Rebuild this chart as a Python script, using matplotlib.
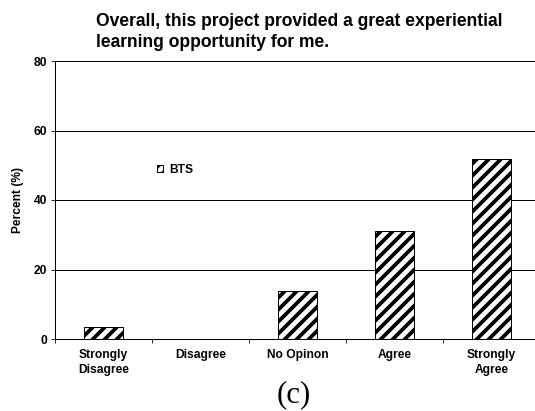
import numpy as np
import matplotlib.pyplot as plt

# survey answers, percent of students (BTS group)
categories = ['Strongly\nDisagree', 'Disagree', 'No Opinon', 'Agree', 'Strongly\nAgree']
bts = [3.4, 0.0, 13.8, 31.0, 51.7]
yticks = [0, 20, 40, 60, 80]

plt.rcParams['font.family'] = ['Liberation Sans', 'DejaVu Sans']
plt.rcParams['hatch.linewidth'] = 3.8

# dpi 72 so that points == pixels
fig = plt.figure(figsize=(535 / 72, 411 / 72), dpi=72)
ax = fig.add_axes([55 / 535, 72 / 411, 485 / 535, 278 / 411])

x = np.arange(len(categories))
ax.bar(x, bts, width=0.4, color='white', edgecolor='black', linewidth=1,
       hatch='//', label='BTS', zorder=3)

ax.set_xlim(-0.5, len(categories) - 0.5)
ax.set_ylim(0, 80)
ax.set_yticks(yticks)
ax.set_yticklabels([str(v) for v in yticks], fontweight='bold', fontsize=12)
ax.yaxis.grid(True, color='black', linewidth=1)
ax.set_axisbelow(True)

# ticks between categories, labels at the centres
ax.set_xticks(np.arange(len(categories) + 1) - 0.5)
ax.set_xticklabels([])
ax.set_xticks(x, minor=True)
ax.set_xticklabels(categories, minor=True, fontweight='bold', fontsize=12,
                   linespacing=1.35)
ax.tick_params(axis='x', which='major', direction='out', length=4, color='black')
ax.tick_params(axis='x', which='minor', length=0, pad=10)
ax.tick_params(axis='y', direction='out', length=4, pad=4)

for s in ['top', 'right']:
    ax.spines[s].set_visible(False)
ax.spines['left'].set_linewidth(1)
ax.spines['bottom'].set_linewidth(1)

fig.text(18 / 535, 1 - 200 / 411, 'Percent (%)', rotation=90, fontweight='bold',
         fontsize=12, ha='center', va='center')

fig.text(96 / 535, 1 - 13 / 411,
         'Overall, this project provided a great experiential\nlearning opportunity for me.',
         fontweight='bold', fontsize=17.5, ha='left', va='top', linespacing=1.3)

ax.legend(loc='center left', bbox_to_anchor=(157 / 535, 1 - 170 / 411),
          bbox_transform=fig.transFigure, frameon=False,
          prop={'weight': 'bold', 'size': 12}, handlelength=0.5, handleheight=0.5,
          handletextpad=0.5, borderpad=0, borderaxespad=0)

fig.text(294 / 535, 1 - 395 / 411, '(c)', family=['Liberation Serif', 'DejaVu Serif'],
         fontsize=31, ha='center', va='center')

fig.savefig('out.png', dpi=72)
